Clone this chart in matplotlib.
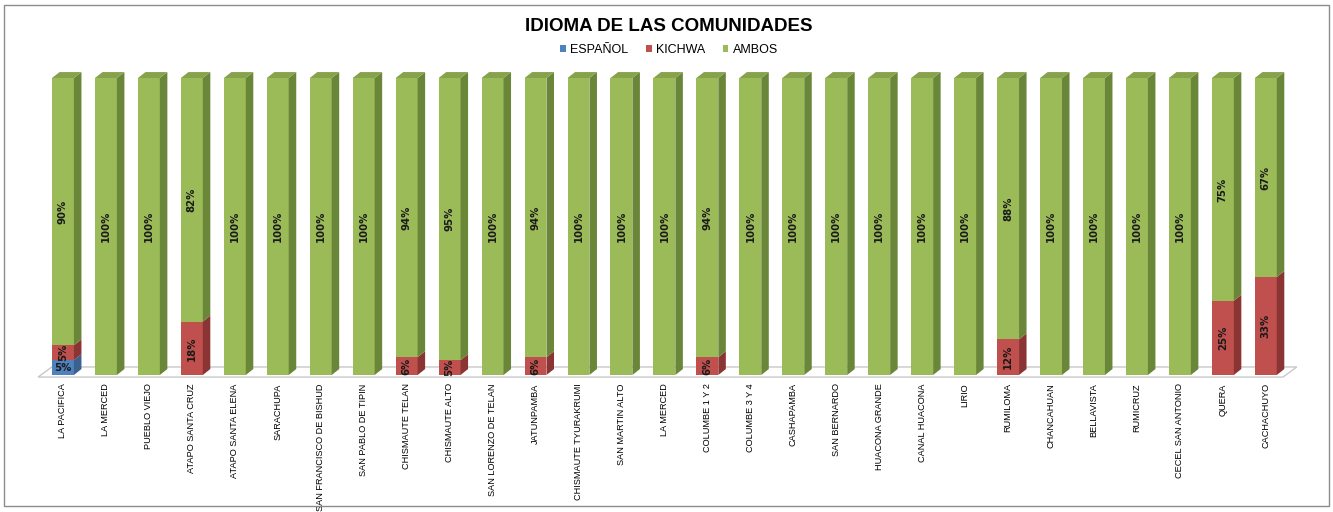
import numpy as np
import matplotlib.pyplot as plt
from matplotlib.patches import Polygon, Rectangle

plt.rcParams['font.family'] = ['Liberation Sans', 'DejaVu Sans']

comunidades = ['LA PACIFICA', 'LA MERCED', 'PUEBLO VIEJO', 'ATAPO SANTA CRUZ',
               'ATAPO SANTA ELENA', 'SARACHUPA', 'SAN FRANCISCO DE BISHUD',
               'SAN PABLO DE TIPIN', 'CHISMAUTE TELAN', 'CHISMAUTE ALTO',
               'SAN LORENZO DE TELAN', 'JATUNPAMBA', 'CHISMAUTE TYURAKRUMI',
               'SAN MARTIN ALTO', 'LA MERCED', 'COLUMBE 1 Y 2', 'COLUMBE 3 Y 4',
               'CASHAPAMBA', 'SAN BERNARDO', 'HUACONA GRANDE', 'CANAL HUACONA',
               'LIRIO', 'RUMILOMA', 'CHANCAHUAN', 'BELLAVISTA', 'RUMICRUZ',
               'CECEL SAN ANTONIO', 'QUERA', 'CACHACHUYO']
espanol = [5, 0, 0, 0, 0, 0, 0, 0, 0, 0, 0, 0, 0, 0, 0, 0, 0, 0, 0, 0, 0, 0, 0, 0, 0, 0, 0, 0, 0]
kichwa = [5, 0, 0, 18, 0, 0, 0, 0, 6, 5, 0, 6, 0, 0, 0, 6, 0, 0, 0, 0, 0, 0, 12, 0, 0, 0, 0, 25, 33]
ambos = [90, 100, 100, 82, 100, 100, 100, 100, 94, 95, 100, 94, 100, 100, 100, 94, 100,
         100, 100, 100, 100, 100, 88, 100, 100, 100, 100, 75, 67]

series = [('ESPAÑOL', espanol, '#4F81BD', '#3A6190', '#45719F'),
          ('KICHWA', kichwa, '#C0504D', '#8A3533', '#A84643'),
          ('AMBOS', ambos, '#9BBB59', '#6A8638', '#86A34B')]

fig = plt.figure(figsize=(13.33, 5.12), dpi=100)
fig.patches.append(Rectangle((0.003, 0.012), 0.994, 0.978, transform=fig.transFigure,
                             fill=False, edgecolor='#8c8c8c', linewidth=1.0))
ax = fig.add_axes([37.2 / 1333, 1 - 375 / 512, 1254.4 / 1333, 297 / 512])

x = np.arange(len(comunidades))
w = 0.51
dx, dy = 0.175, 2.0

# floor
ax.add_patch(Polygon([(-0.58, -0.7), (28.40, -0.7), (28.72, 2.7), (-0.26, 2.7)],
                     closed=True, facecolor='white', edgecolor='#c8c8c8', linewidth=1.0,
                     clip_on=False, zorder=1))

bottom = np.zeros(len(x))
for name, vals, col, side, top in series:
    vals = np.array(vals, dtype=float)
    ax.bar(x, vals, w, bottom=bottom, color=col, label=name, zorder=3,
           edgecolor='none', clip_on=False)
    for i in range(len(x)):
        if vals[i] <= 0:
            continue
        x1 = x[i] + w / 2
        y0, y1 = bottom[i], bottom[i] + vals[i]
        ax.add_patch(Polygon([(x1, y0), (x1 + dx, y0 + dy), (x1 + dx, y1 + dy), (x1, y1)],
                             closed=True, facecolor=side, edgecolor='none',
                             clip_on=False, zorder=3))
        if y1 >= 99.9:
            x0 = x[i] - w / 2
            ax.add_patch(Polygon([(x0, y1), (x1, y1), (x1 + dx, y1 + dy), (x0 + dx, y1 + dy)],
                                 closed=True, facecolor=top, edgecolor='none',
                                 clip_on=False, zorder=3))
        rot = 0 if name == 'ESPAÑOL' else 90
        ax.text(x[i], y0 + vals[i] / 2, f'{int(vals[i])}%', rotation=rot,
                ha='center', va='center', fontsize=7.3, fontweight='bold',
                color='#1a1a1a', zorder=5, family='DejaVu Sans')
    bottom += vals

ax.set_xlim(-0.6, 28.6)
ax.set_ylim(0, 100)
ax.set_xticks(x)
ax.set_xticklabels(comunidades, rotation=90, fontsize=6.6, va='top', ha='center')
ax.tick_params(axis='x', length=0, pad=6)
ax.set_yticks([])
for s in ax.spines.values():
    s.set_visible(False)

fig.text(0.502, 0.948, 'IDIOMA DE LAS COMUNIDADES', ha='center', va='center',
         fontsize=13.5, fontweight='bold')
fig.legend(loc='center', bbox_to_anchor=(0.502, 0.902), ncol=3, frameon=False,
           fontsize=9, handlelength=0.45, handleheight=0.45, handletextpad=0.35,
           columnspacing=1.4)

fig.savefig('out.png', dpi=100)
